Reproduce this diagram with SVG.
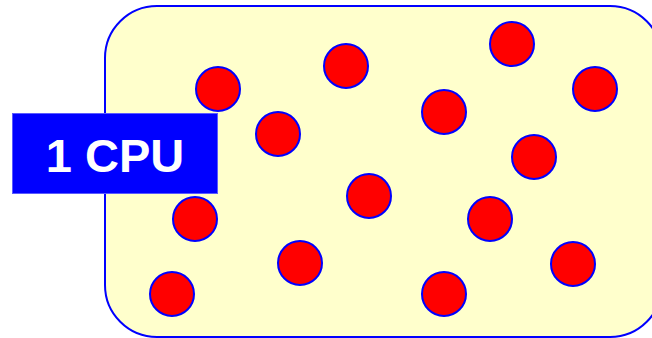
<svg xmlns="http://www.w3.org/2000/svg" width="652" height="338" viewBox="0 0 652 338">
<style>
.dot{fill:#FF0000;stroke:#0000FF;stroke-width:2}
.frame{fill:#FFFFCC;stroke:#0000FF;stroke-width:2}
.label{fill:#0000FF;stroke:#5a5aff;stroke-width:1}
.lt{fill:#FFFFFF;font-family:"Liberation Sans",Arial,sans-serif;font-weight:bold;font-size:47px;text-anchor:middle}
</style>
<rect width="652" height="338" fill="#FFFFFF"/>
<g id="container">
<rect class="frame" x="105" y="6" width="557" height="331" rx="52" ry="52"/>
</g>
<g id="dots">
<circle class="dot" cx="218" cy="89" r="22"/>
<circle class="dot" cx="346" cy="66" r="22"/>
<circle class="dot" cx="512" cy="44" r="22"/>
<circle class="dot" cx="595" cy="89" r="22"/>
<circle class="dot" cx="278" cy="134" r="22"/>
<circle class="dot" cx="444" cy="112" r="22"/>
<circle class="dot" cx="534" cy="157" r="22"/>
<circle class="dot" cx="369" cy="196" r="22"/>
<circle class="dot" cx="195" cy="219" r="22"/>
<circle class="dot" cx="490" cy="219" r="22"/>
<circle class="dot" cx="300" cy="263" r="22"/>
<circle class="dot" cx="573" cy="264" r="22"/>
<circle class="dot" cx="172" cy="294" r="22"/>
<circle class="dot" cx="444" cy="294" r="22"/>
</g>
<g id="cpu-label">
<rect class="label" x="12.5" y="113.5" width="205" height="80"/>
<text class="lt" x="115" y="172">1 CPU</text>
</g>
</svg>
